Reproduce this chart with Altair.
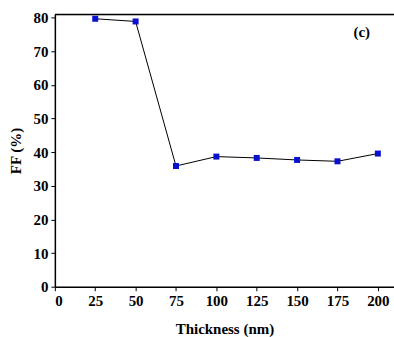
import altair as alt
import pandas as pd

thickness = [25, 50, 75, 100, 125, 150, 175, 200]
ff = [79.7, 78.9, 35.9, 38.7, 38.3, 37.7, 37.3, 39.6]
x_ticks = [0, 25, 50, 75, 100, 125, 150, 175, 200]
y_ticks = [0, 10, 20, 30, 40, 50, 60, 70, 80]

df = pd.DataFrame({"t": thickness, "ff": ff})
FONT = "Liberation Serif"

xs = alt.Scale(domain=[0, 210], nice=False, zero=False)
ys = alt.Scale(domain=[0, 81], nice=False, zero=False)

xax = alt.Axis(values=x_ticks, title="Thickness (nm)", grid=False, domainColor="black",
               domainWidth=1.5, tickColor="black", tickSize=4, labelFont=FONT, labelFontSize=15,
               labelFontWeight="bold", labelColor="black", titleFont=FONT, titleFontSize=15,
               titleFontWeight="bold", titleColor="black", labelPadding=3, titlePadding=13,
               labelOverlap=False)
yax = alt.Axis(values=y_ticks, title="FF (%)", grid=False, domainColor="black",
               domainWidth=1.5, tickColor="black", tickSize=4, labelFont=FONT, labelFontSize=15,
               labelFontWeight="bold", labelColor="black", titleFont=FONT, titleFontSize=15,
               titleFontWeight="bold", titleColor="black", labelPadding=3, titlePadding=9,
               labelOverlap=False)

base = alt.Chart(df).encode(
    x=alt.X("t:Q", scale=xs, axis=xax), y=alt.Y("ff:Q", scale=ys, axis=yax))
line = base.mark_line(color="black", strokeWidth=1)
pts = base.mark_square(color="#0a10d0", size=36, opacity=1)
top = alt.Chart(pd.DataFrame({"a": [0]})).mark_rule(color="black", strokeWidth=1.5).encode(
    x=alt.value(0), x2=alt.value(340), y=alt.value(0))
lab = alt.Chart(pd.DataFrame({"t": [190], "ff": [75.7], "s": ["(c)"]})).mark_text(
    font=FONT, fontSize=15, fontWeight="bold", color="black").encode(
    x=alt.X("t:Q", scale=xs, axis=xax), y=alt.Y("ff:Q", scale=ys, axis=yax), text="s:N")

chart = alt.layer(line, pts, top, lab).properties(
    width=340, height=273,
    autosize=alt.AutoSizeParams(type="none"),
    padding={"left": 55, "top": 14, "right": 0, "bottom": 50},
).configure_view(stroke=None).configure(background="white")

chart.save("out.html", embed_options={"renderer": "svg", "actions": False})
